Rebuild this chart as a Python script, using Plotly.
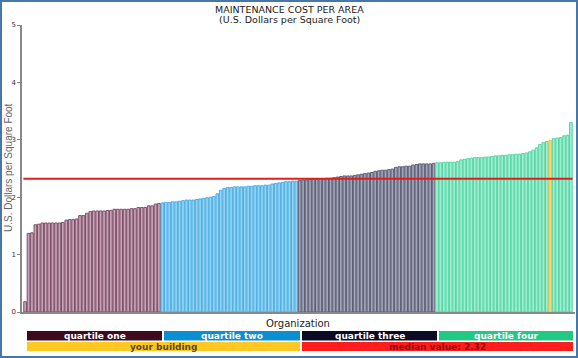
import plotly.graph_objects as go

# ---- data ----
q1_values = [0.18, 1.37, 1.38, 1.52, 1.53, 1.55, 1.55, 1.55, 1.55, 1.55, 1.55, 1.56, 1.60, 1.61, 1.61, 1.62,
             1.68, 1.68, 1.72, 1.75, 1.76, 1.76, 1.76, 1.76, 1.77, 1.77, 1.79, 1.79, 1.79, 1.79, 1.79, 1.80,
             1.80, 1.82, 1.82, 1.82, 1.85, 1.85, 1.88, 1.89]
q2_values = [1.90, 1.91, 1.91, 1.92, 1.92, 1.93, 1.94, 1.95, 1.95, 1.95, 1.96, 1.97, 1.98, 1.99, 2.00, 2.01,
             2.06, 2.12, 2.15, 2.17, 2.17, 2.18, 2.18, 2.18, 2.18, 2.19, 2.19, 2.20, 2.20, 2.20, 2.21, 2.21,
             2.23, 2.24, 2.25, 2.26, 2.27, 2.27, 2.28, 2.28]
q3_values = [2.29, 2.30, 2.30, 2.31, 2.31, 2.31, 2.32, 2.32, 2.33, 2.33, 2.34, 2.35, 2.36, 2.37, 2.37, 2.37,
             2.38, 2.39, 2.40, 2.41, 2.42, 2.43, 2.45, 2.46, 2.47, 2.47, 2.48, 2.49, 2.52, 2.53, 2.53, 2.54,
             2.54, 2.56, 2.57, 2.58, 2.58, 2.58, 2.58, 2.59]
q4_values = [2.60, 2.60, 2.61, 2.61, 2.61, 2.61, 2.62, 2.65, 2.66, 2.67, 2.68, 2.69, 2.69, 2.69, 2.70, 2.70,
             2.71, 2.72, 2.72, 2.73, 2.73, 2.74, 2.74, 2.75, 2.75, 2.76, 2.77, 2.79, 2.82, 2.86, 2.92, 2.95,
             2.97, 2.99, 3.02, 3.03, 3.04, 3.07, 3.08, 3.30]
your_building_index = 153
median_value = 2.32
quartile_labels = ["quartile one", "quartile two", "quartile three", "quartile four"]
y_ticks = [0, 1, 2, 3, 4, 5]

# ---- styles ----
fill_cols = ["#c9a3b6", "#93d3f3", "#a3a5ba", "#9eefd0"]
line_cols = ["#7d5068", "#4eaee3", "#5c5e74", "#58d5a6"]
legend_cols = ["#3e0a20", "#0b8fd3", "#0c0b24", "#22c985"]
legend_text_cols = ["white", "white", "white", "white"]
yb_fill, yb_line = "#ffd66e", "#f5c040"

quartiles = [q1_values, q2_values, q3_values, q4_values]
values, fills, lines = [], [], []
for qi, q in enumerate(quartiles):
    for v in q:
        values.append(v)
        fills.append(fill_cols[qi])
        lines.append(line_cols[qi])
fills[your_building_index] = yb_fill
lines[your_building_index] = yb_line
xs = list(range(len(values)))

fig = go.Figure()
fig.add_trace(go.Bar(x=xs, y=values, marker=dict(color=fills, line=dict(color=lines, width=1)),
                     hoverinfo="y", showlegend=False))

W, H = 578, 358
ml, mr, mt, mb = 22, 3, 25, 46
pw, ph = W - ml - mr, H - mt - mb

def px(x):
    return (x - ml) / pw

def py(y):
    return (H - mb - y) / ph

shapes = []
annotations = []
# median line
shapes.append(dict(type="line", xref="x", yref="y", x0=-0.5, x1=len(values) - 0.5,
                   y0=median_value, y1=median_value, line=dict(color="#e01e1e", width=2)))
# legend boxes
q_ranges = [(27, 162), (164, 300), (302, 437), (439, 573)]
for (a, b), c, lab, tc in zip(q_ranges, legend_cols, quartile_labels, legend_text_cols):
    shapes.append(dict(type="rect", xref="paper", yref="paper", x0=px(a), x1=px(b), y0=py(331), y1=py(340.5),
                       fillcolor=c, line=dict(width=0), layer="above"))
    annotations.append(dict(xref="paper", yref="paper", x=px((a + b) / 2), y=py(335.8), text="<b>%s</b>" % lab,
                            showarrow=False, font=dict(size=9, color=tc, family="DejaVu Sans"),
                            xanchor="center", yanchor="middle"))
shapes.append(dict(type="rect", xref="paper", yref="paper", x0=px(27), x1=px(300), y0=py(342), y1=py(351),
                   fillcolor="#ffc822", line=dict(width=0), layer="above"))
annotations.append(dict(xref="paper", yref="paper", x=px(163.5), y=py(346.5), text="<b>your building</b>",
                        showarrow=False, font=dict(size=9, color="#5a4a20", family="DejaVu Sans"),
                        xanchor="center", yanchor="middle"))
shapes.append(dict(type="rect", xref="paper", yref="paper", x0=px(302), x1=px(573), y0=py(342), y1=py(351),
                   fillcolor="#ff1c1c", line=dict(width=0), layer="above"))
annotations.append(dict(xref="paper", yref="paper", x=px(437.5), y=py(346.5),
                        text="<b>median value: %.2f</b>" % median_value,
                        showarrow=False, font=dict(size=9, color="#8a1010", family="DejaVu Sans"),
                        xanchor="center", yanchor="middle"))
# outer frame
shapes.append(dict(type="rect", xref="paper", yref="paper", x0=px(1), x1=px(577), y0=py(1), y1=py(357),
                   line=dict(color="#4677a6", width=2), fillcolor="rgba(0,0,0,0)", layer="above"))
# titles
annotations.append(dict(xref="paper", yref="paper", x=px(289), y=py(9), text="MAINTENANCE COST PER AREA",
                        showarrow=False, font=dict(size=9.5, color="#222", family="DejaVu Sans"),
                        xanchor="center", yanchor="middle"))
annotations.append(dict(xref="paper", yref="paper", x=px(289), y=py(19.5), text="(U.S. Dollars per Square Foot)",
                        showarrow=False, font=dict(size=9.5, color="#222", family="DejaVu Sans"),
                        xanchor="center", yanchor="middle"))
annotations.append(dict(xref="paper", yref="paper", x=px(298), y=py(323), text="Organization",
                        showarrow=False, font=dict(size=10, color="#222", family="DejaVu Sans"),
                        xanchor="center", yanchor="middle"))
annotations.append(dict(xref="paper", yref="paper", x=px(8), y=py(168), text="U.S. Dollars per Square Foot",
                        showarrow=False, textangle=-90, font=dict(size=10, color="#666", family="Liberation Sans"),
                        xanchor="center", yanchor="middle"))

fig.update_layout(
    width=W, height=H,
    margin=dict(l=ml, r=mr, t=mt, b=mb),
    paper_bgcolor="white", plot_bgcolor="white",
    bargap=0.22,
    shapes=shapes, annotations=annotations,
    xaxis=dict(range=[-0.9, len(values) + 0.2], showticklabels=False, ticks="", showgrid=False,
               zeroline=False, showline=True, linecolor="#888", linewidth=2),
    yaxis=dict(range=[0, 5], tickvals=y_ticks, ticks="outside", ticklen=3, tickcolor="#888",
               tickfont=dict(size=7, color="#333", family="DejaVu Sans"), showgrid=False, zeroline=False,
               showline=True, linecolor="#888", linewidth=1.5),
)
fig.write_html("out.html", config={"displayModeBar": False},
               post_script="document.body.style.margin='0';document.body.style.overflow='hidden';")
